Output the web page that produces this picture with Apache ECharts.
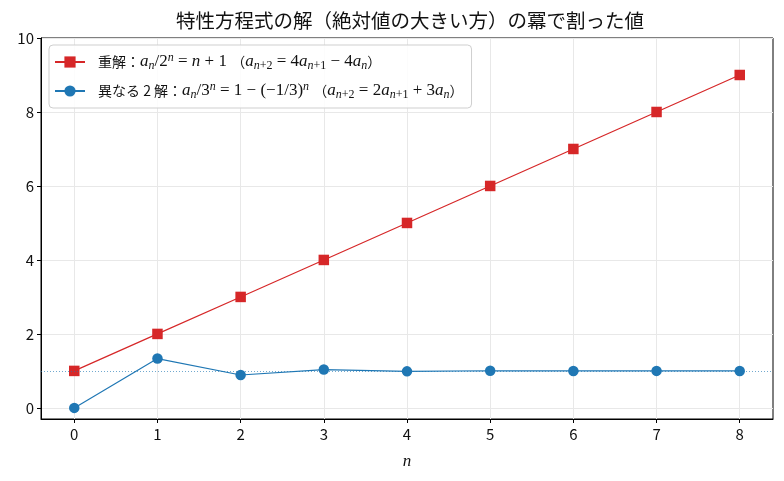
<!DOCTYPE html>
<html>
<head>
<meta charset="utf-8">
<script src="https://cdn.jsdelivr.net/npm/echarts@6/dist/echarts.min.js"></script>
<style>html,body{margin:0;padding:0;background:#fff;}#c{width:784px;height:481px;}</style>
</head>
<body>
<div id="c"></div>
<script>
// ---- data ----
const nValues = [0, 1, 2, 3, 4, 5, 6, 7, 8];
const doubleRoot = [1, 2, 3, 4, 5, 6, 7, 8, 9];               // a_n / 2^n = n + 1
const distinctRoots = [0, 1.3333, 0.8889, 1.0370, 0.9877, 1.0041, 0.9986, 1.0005, 0.9998]; // a_n / 3^n
const xTicks = [0, 1, 2, 3, 4, 5, 6, 7, 8];
const yTicks = [0, 2, 4, 6, 8, 10];
const referenceLevel = 1;
const titleText = '特性方程式の解（絶対値の大きい方）の冪で割った値';
const seriesNames = ['doubleRoot', 'distinctRoots'];
const legendRich = {
  doubleRoot: '{sp| }{jp|重解：}{mi|a}{si|n}{mr|/2}{pi|n}{mr| = }{mi|n}{mr| + 1 }{jp|（}{mi|a}{si|n}{sr|+2}{mr| = 4}{mi|a}{si|n}{sr|+1}{mr| − 4}{mi|a}{si|n}{jp|）}',
  distinctRoots: '{sp| }{jp|異なる 2 解：}{mi|a}{si|n}{mr|/3}{pi|n}{mr| = 1 − (−1/3)}{pi|n}{mr| }{jp|（}{mi|a}{si|n}{sr|+2}{mr| = 2}{mi|a}{si|n}{sr|+1}{mr| + 3}{mi|a}{si|n}{jp|）}'
};

const JP = "'Noto Sans CJK JP', 'Noto Sans', sans-serif";
const SERIF = "'Liberation Serif', 'DejaVu Serif', serif";
const chart = echarts.init(document.getElementById('c'));
chart.setOption({
  animation: false,
  backgroundColor: '#fff',
  title: {
    text: titleText,
    left: 405, top: 6, textAlign: 'center',
    textStyle: { fontFamily: JP, fontSize: 19.5, fontWeight: 'normal', color: '#111' }
  },
  legend: {
    orient: 'vertical',
    left: 49, top: 45,
    padding: [7, 8, 7, 5],
    itemGap: 9,
    itemWidth: 30, itemHeight: 14,
    backgroundColor: 'rgba(255,255,255,0.85)',
    borderColor: '#cfcfcf', borderWidth: 1, borderRadius: 4,
    data: seriesNames,
    formatter: function (name) { return legendRich[name]; },
    textStyle: {
      color: '#111',
      rich: {
        sp: { width: 8 },
        jp: { fontFamily: JP, fontSize: 14, lineHeight: 20, color: '#111' },
        mi: { fontFamily: SERIF, fontStyle: 'italic', fontSize: 17, lineHeight: 20, color: '#111' },
        mr: { fontFamily: SERIF, fontSize: 17, lineHeight: 20, color: '#111' },
        si: { fontFamily: SERIF, fontStyle: 'italic', fontSize: 12, lineHeight: 12, verticalAlign: 'bottom', color: '#111' },
        sr: { fontFamily: SERIF, fontSize: 12, lineHeight: 12, verticalAlign: 'bottom', color: '#111' },
        pi: { fontFamily: SERIF, fontStyle: 'italic', fontSize: 12, lineHeight: 12, verticalAlign: 'top', color: '#111' }
      }
    }
  },
  grid: {
    left: 41, right: 11, top: 38, bottom: 62,
    show: true, borderColor: '#000', borderWidth: 1, backgroundColor: 'transparent'
  },
  xAxis: {
    type: 'value', min: -0.4, max: 8.4,
    name: 'n', nameLocation: 'middle', nameGap: 34,
    nameTextStyle: { fontFamily: SERIF, fontStyle: 'italic', fontSize: 17, color: '#111' },
    axisLine: { show: true, onZero: false, lineStyle: { color: '#000', width: 1 } },
    axisTick: { show: true, length: 4, customValues: xTicks, lineStyle: { color: '#000' } },
    axisLabel: { customValues: xTicks, margin: 8, fontFamily: JP, fontSize: 15, color: '#111' },
    splitLine: { show: true, lineStyle: { color: '#e8e8e8', width: 1 } }
  },
  yAxis: {
    type: 'value', min: -0.3, max: 10,
    axisLine: { show: true, onZero: false, lineStyle: { color: '#000', width: 1 } },
    axisTick: { show: true, length: 4, customValues: yTicks, lineStyle: { color: '#000' } },
    axisLabel: { customValues: yTicks, margin: 7, fontFamily: JP, fontSize: 15, color: '#111' },
    splitLine: { show: true, lineStyle: { color: '#e8e8e8', width: 1 } }
  },
  series: [
    {
      name: seriesNames[0], type: 'line',
      data: nValues.map((n, i) => [n, doubleRoot[i]]),
      symbol: 'rect', symbolSize: 10.5,
      lineStyle: { color: '#d62728', width: 1.2 },
      itemStyle: { color: '#d62728' },
      z: 3
    },
    {
      name: seriesNames[1], type: 'line',
      data: nValues.map((n, i) => [n, distinctRoots[i]]),
      symbol: 'circle', symbolSize: 10.5,
      lineStyle: { color: '#1f77b4', width: 1.2 },
      itemStyle: { color: '#1f77b4' },
      z: 3,
      markLine: {
        silent: true, symbol: 'none', label: { show: false },
        lineStyle: { color: '#1f77b4', type: [1, 2], width: 0.8, opacity: 0.8 },
        data: [{ yAxis: referenceLevel }]
      }
    }
  ]
});
</script>
</body>
</html>
